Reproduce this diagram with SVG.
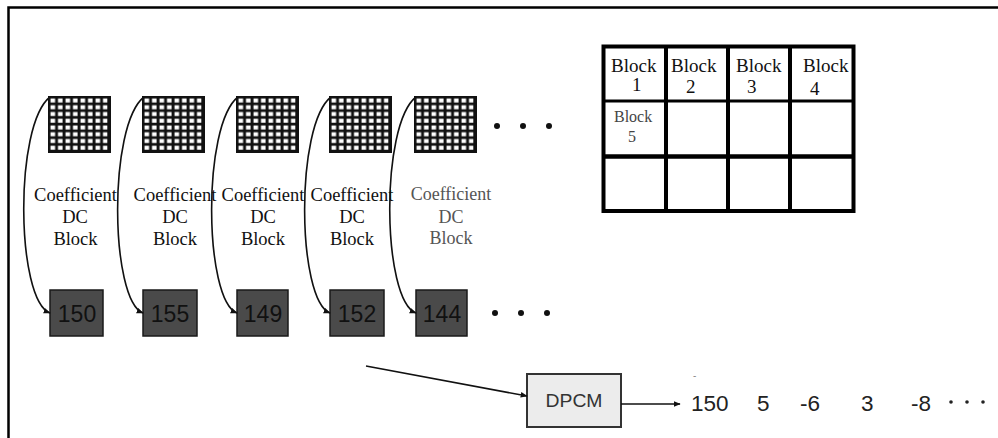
<svg xmlns="http://www.w3.org/2000/svg" width="998" height="438" viewBox="0 0 998 438">
<style>
.lbl{font-family:"Liberation Serif","Times New Roman",serif;font-size:18.5px;fill:#111;text-anchor:middle}
.lbl2{font-family:"Liberation Serif","Times New Roman",serif;font-size:18px;fill:#555;text-anchor:middle}
.tb{font-family:"Liberation Serif","Times New Roman",serif;font-size:19px;fill:#111}
.tb2{font-family:"Liberation Serif","Times New Roman",serif;font-size:16px;fill:#444}
.box{fill:#4a4a4a;stroke:#1a1a1a;stroke-width:1.5}
.num{font-family:"Liberation Sans",Arial,sans-serif;font-size:23px;fill:#111;text-anchor:middle}
.seq{font-family:"Liberation Sans",Arial,sans-serif;font-size:22.5px;fill:#222}
.curve{fill:none;stroke:#111;stroke-width:1.6}
.tl{stroke:#000;fill:none}
</style>
<defs>
<pattern id="cells" width="7.5" height="6.75" patternUnits="userSpaceOnUse">
<rect x="2.5" y="2.5" width="4.6" height="4" fill="#fff"/>
</pattern>
<g id="grid">
<rect x="0" y="0" width="63" height="57" fill="#111"/>
<rect x="0" y="0" width="59.5" height="54" fill="url(#cells)"/>
</g>
<marker id="ah" viewBox="0 0 10 10" refX="9" refY="5" markerWidth="7" markerHeight="7" orient="auto" markerUnits="userSpaceOnUse">
<path d="M0,1 L10,5 L0,9 z" fill="#111"/>
</marker>
</defs>
<rect width="998" height="438" fill="#fff"/>
<path d="M8.5,438 V7.5 H998" fill="none" stroke="#000" stroke-width="2.5"/>

<g id="col1">
<use href="#grid" transform="translate(48,96)"/>
<text class="lbl" x="75.5" y="201">Coefficient</text>
<text class="lbl" x="75" y="223">DC</text>
<text class="lbl" x="75.5" y="245">Block</text>
<rect class="box" x="50" y="290" width="53" height="46"/>
<text class="num" x="77" y="322">150</text>
</g>
<g id="col2">
<use href="#grid" transform="translate(142,96)"/>
<text class="lbl" x="175" y="201">Coefficient</text>
<text class="lbl" x="175" y="223">DC</text>
<text class="lbl" x="175" y="245">Block</text>
<rect class="box" x="143" y="290" width="54" height="46"/>
<text class="num" x="170" y="322">155</text>
</g>
<g id="col3">
<use href="#grid" transform="translate(236,96)"/>
<text class="lbl" x="263" y="201">Coefficient</text>
<text class="lbl" x="263" y="223">DC</text>
<text class="lbl" x="263" y="245">Block</text>
<rect class="box" x="237" y="290" width="51" height="46"/>
<text class="num" x="263" y="322">149</text>
</g>
<g id="col4">
<use href="#grid" transform="translate(329,96)"/>
<text class="lbl" x="352" y="201">Coefficient</text>
<text class="lbl" x="352" y="223">DC</text>
<text class="lbl" x="352" y="245">Block</text>
<rect class="box" x="330" y="290" width="54" height="46"/>
<text class="num" x="357" y="322">152</text>
</g>
<g id="col5">
<use href="#grid" transform="translate(414,96)"/>
<text class="lbl2" x="451" y="200">Coefficient</text>
<text class="lbl2" x="451" y="223">DC</text>
<text class="lbl2" x="451" y="244">Block</text>
<rect class="box" x="416" y="290" width="51" height="46"/>
<text class="num" x="442" y="322">144</text>
</g>
<g id="dots">
<circle cx="497" cy="126" r="3" fill="#111"/>
<circle cx="523" cy="126" r="3" fill="#111"/>
<circle cx="549" cy="126" r="3" fill="#111"/>
<circle cx="495" cy="313" r="3" fill="#111"/>
<circle cx="521" cy="313" r="3" fill="#111"/>
<circle cx="547" cy="313" r="3" fill="#111"/>
</g>

<g id="table">
<rect x="603.5" y="46.5" width="250" height="164.5" class="tl" stroke-width="4"/>
<path d="M666,46 V211 M728,46 V211 M790,46 V211" class="tl" stroke-width="4"/>
<path d="M603,101 H854" class="tl" stroke-width="3"/>
<path d="M603,156.5 H854" class="tl" stroke-width="4.5"/>
<text class="tb" x="611" y="72">Block</text>
<text class="tb" x="632" y="91">1</text>
<text class="tb" x="671" y="72">Block</text>
<text class="tb" x="686" y="93">2</text>
<text class="tb" x="736" y="72">Block</text>
<text class="tb" x="747" y="93">3</text>
<text class="tb" x="803" y="72">Block</text>
<text class="tb" x="810" y="95">4</text>
<text class="tb2" x="614" y="122">Block</text>
<text class="tb2" x="628" y="142">5</text>
</g>

<g id="dpcm">
<rect x="527" y="374" width="94" height="53" fill="#ececec" stroke="#333" stroke-width="2"/>
<text x="574" y="407" font-family="Liberation Sans, Arial, sans-serif" font-size="18" fill="#333" text-anchor="middle" textLength="57" lengthAdjust="spacingAndGlyphs">DPCM</text>
</g>

<g id="sequence">
<text x="693" y="379" font-family="Liberation Sans, Arial, sans-serif" font-size="10" fill="#888">-</text>
<text class="seq" x="691" y="411">150</text>
<text class="seq" x="757" y="411">5</text>
<text class="seq" x="800" y="411">-6</text>
<text class="seq" x="861" y="411">3</text>
<text class="seq" x="911" y="411">-8</text>
<circle cx="951" cy="402" r="1.8" fill="#222"/>
<circle cx="967" cy="402" r="1.8" fill="#222"/>
<circle cx="983" cy="402" r="1.8" fill="#222"/>
</g>

<g id="connectors">
<path class="curve" d="M50,97 C14,125 16,300 50,313" marker-end="url(#ah)"/>
<path class="curve" d="M144,97 C108,125 110,300 143,313" marker-end="url(#ah)"/>
<path class="curve" d="M238,97 C202,125 204,300 237,313" marker-end="url(#ah)"/>
<path class="curve" d="M331,97 C295,125 297,300 330,313" marker-end="url(#ah)"/>
<path class="curve" d="M416,97 C380,125 382,300 416,313" marker-end="url(#ah)"/>
<path class="curve" d="M366,366 L527,396" marker-end="url(#ah)"/>
<path class="curve" d="M621,404 L680,404" marker-end="url(#ah)"/>
</g>
</svg>
